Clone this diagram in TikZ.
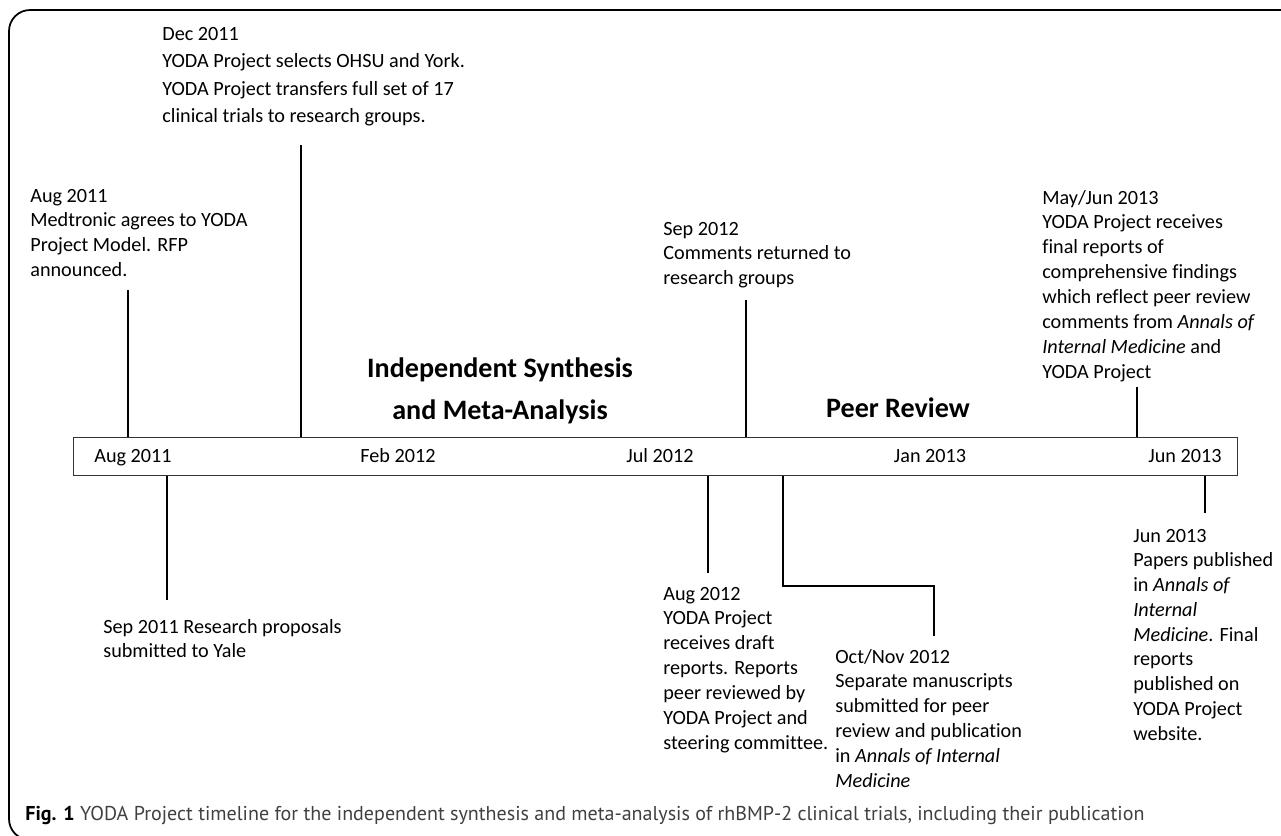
\documentclass[tikz,border=0pt]{standalone}
\usepackage{fontspec}
\setmainfont[Ligatures=NoCommon]{Carlito}
\newfontfamily\capfont{PT Sans}
\usetikzlibrary{positioning,calc}

% lines of an event, baseline of the first line is the node's base
\newcommand{\evlines}[1]{\begin{tabular}[t]{@{}l@{}}#1\end{tabular}}

\begin{document}
\begin{tikzpicture}[x=0.02cm, y=-0.02cm,
    event/.style={anchor=base west, inner sep=0pt, font=\fontsize{11.5}{14.2}\selectfont},
    barlabel/.style={anchor=base, inner sep=0pt, font=\fontsize{11.5}{14.2}\selectfont},
    phase/.style={anchor=base, inner sep=0pt, align=center, font=\fontsize{16}{23.9}\selectfont\bfseries},
    tick/.style={line width=0.6pt},
    timebar/.style={draw=black!80, line width=0.6pt, fill=white}
  ]
  \useasboundingbox (0,0) rectangle (1281,835);
  \clip (0,0) rectangle (1281,835);

  % frame
  \draw[line width=1pt, rounded corners=12pt] (1300,10) -- (9,10) -- (9,840) -- (60,840);

  % the time bar
  \node[timebar, minimum width=23.28cm, minimum height=0.76cm, inner sep=0pt, anchor=north west] (bar) at (73,437) {};
  \node[barlabel] (aug11) at (133,462) {Aug 2011};
  \node[barlabel] (feb12) at (398,462) {Feb 2012};
  \node[barlabel] (jul12) at (660,462) {Jul 2012};
  \node[barlabel] (jan13) at (930,462) {Jan 2013};
  \node[barlabel] (jun13) at (1185,462) {Jun 2013};

  % phases
  \node[phase] (synth) at (500,419) {Independent Synthesis\\and Meta-Analysis};
  \node[phase] (peer) at (898,417) {Peer Review};

  % events above the bar
  \node[event] (ev-aug11) at (30,202) {\evlines{Aug 2011\\Medtronic agrees to YODA\\Project Model. RFP\\announced.}};
  \coordinate (t-aug11) at (128,290);
  \draw[tick] (t-aug11) -- (t-aug11 |- bar.north);

  \node[event, font=\fontsize{11.5}{15.7}\selectfont] (ev-dec11) at (162,40) {\evlines{Dec 2011\\YODA Project selects OHSU and York.\\YODA Project transfers full set of 17\\clinical trials to research groups.}};
  \coordinate (t-dec11) at (301,145);
  \draw[tick] (t-dec11) -- (t-dec11 |- bar.north);

  \node[event] (ev-sep12) at (663,235) {\evlines{Sep 2012\\Comments returned to\\research groups}};
  \coordinate (t-sep12) at (746,300);
  \draw[tick] (t-sep12) -- (t-sep12 |- bar.north);

  \node[event] (ev-jun13a) at (1042,204) {\evlines{May/Jun 2013\\YODA Project receives\\final reports of\\comprehensive findings\\which reflect peer review\\comments from \emph{Annals of}\\\emph{Internal Medicine} and\\YODA Project}};
  \coordinate (t-jun13a) at (1137,387);
  \draw[tick] (t-jun13a) -- (t-jun13a |- bar.north);

  % events below the bar
  \coordinate (t-sep11) at (167,600);
  \draw[tick] (t-sep11 |- bar.south) -- (t-sep11);
  \node[event] (ev-sep11) at (103,633) {\evlines{Sep 2011 Research proposals\\submitted to Yale}};

  \coordinate (t-aug12) at (708,573);
  \draw[tick] (t-aug12 |- bar.south) -- (t-aug12);
  \node[event] (ev-aug12) at (663,600) {\evlines{Aug 2012\\YODA Project\\receives draft\\reports. Reports\\peer reviewed by\\YODA Project and\\steering committee.}};

  \coordinate (t-oct12) at (783,586);
  \coordinate (t-oct12end) at (934,636);
  \draw[tick] (t-oct12 |- bar.south) -- (t-oct12) -| (t-oct12end);
  \node[event] (ev-oct12) at (835,663) {\evlines{Oct/Nov 2012\\Separate manuscripts\\submitted for peer\\review and publication\\in \emph{Annals of Internal}\\\emph{Medicine}}};

  \coordinate (t-jun13b) at (1205,513);
  \draw[tick] (t-jun13b |- bar.south) -- (t-jun13b);
  \node[event, font=\fontsize{11.5}{14.1}\selectfont] (ev-jun13b) at (1133,542) {\evlines{Jun 2013\\Papers published\\in \emph{Annals of}\\\emph{Internal}\\\emph{Medicine}. Final\\reports\\published on\\YODA Project\\website.}};

  % caption
  \node[anchor=base west, inner sep=0pt, font=\capfont\fontsize{11.4}{13}\selectfont, text=black!75] (caption) at (25,820)
    {{\color{black}\bfseries Fig. 1} YODA Project timeline for the independent synthesis and meta-analysis of rhBMP-2 clinical trials, including their publication};
\end{tikzpicture}
\end{document}
